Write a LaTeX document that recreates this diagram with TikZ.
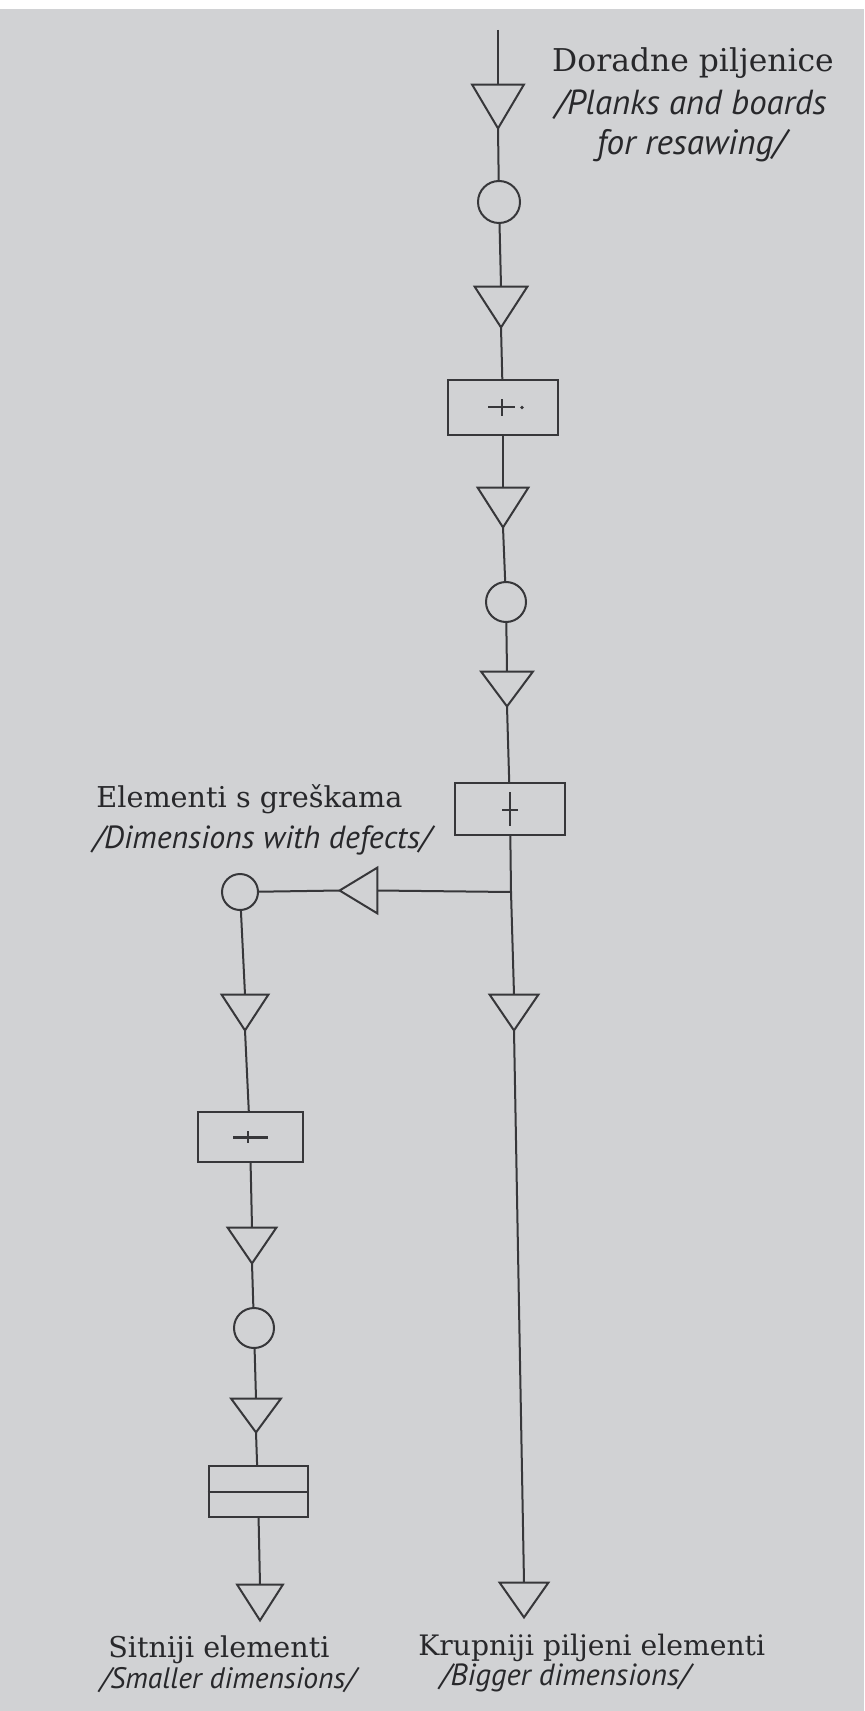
\documentclass[tikz,border=0pt]{standalone}
\usepackage{fontspec}
\setmainfont{DejaVu Serif}
\newfontfamily\itfont{PT Sans}
\definecolor{bgc}{RGB}{209,210,212}
\definecolor{linec}{RGB}{55,55,58}
\definecolor{textc}{RGB}{40,40,43}
\begin{document}
\begin{tikzpicture}[x=0.5pt,y=-0.5pt,
  ln/.style={draw=linec, line width=1pt},
  tri/.style={rectangle, inner sep=0pt, minimum width=25pt, minimum height=19pt},
  circ/.style={circle, draw=linec, line width=1pt, inner sep=0pt, minimum size=20pt},
  box/.style={rectangle, draw=linec, line width=1pt, inner sep=0pt, minimum width=55pt, minimum height=26.5pt},
  lbl/.style={text=textc, inner sep=0pt, anchor=base west},
  upr/.style={font=\fontsize{#1}{#1}\selectfont},
  itl/.style={font=\itfont\itshape\fontsize{#1}{#1}\selectfont},
]
\fill[bgc] (0,0) rectangle (864,1711);
\fill[white] (0,0) rectangle (864,9);
\useasboundingbox (0,0) rectangle (864,1711);

% main column
\coordinate (s0) at (498,30);
\node[tri, minimum width=25.5pt, minimum height=21.5pt] (t1) at (498,106.5) {};
\node[circ, minimum size=21pt] (c1) at (499,202) {};
\node[tri, minimum width=26pt, minimum height=20pt] (t2) at (501,307) {};
\node[box, minimum height=27.5pt] (b1) at (503,407.5) {};
\node[tri, minimum height=19.5pt] (t3) at (503,507.5) {};
\node[circ] (c2) at (506,602) {};
\node[tri, minimum width=25.5pt, minimum height=17pt] (t4) at (507,689) {};
\node[box, minimum height=26pt] (b2) at (510,809) {};
\coordinate (J) at (511,892);
\node[tri, minimum width=24pt, minimum height=17.5pt] (t5) at (514,1012.5) {};
\node[tri, minimum width=24pt, minimum height=17pt] (t6) at (524,1600) {};

% branch
\node[tri, minimum width=18.5pt, minimum height=22.5pt] (tl) at (358.5,890.5) {};
\node[circ, minimum size=18pt] (c3) at (240,892) {};
\node[tri, minimum width=23pt, minimum height=17.5pt] (t7) at (245,1012.5) {};
\node[box, minimum width=52.5pt, minimum height=25pt] (b3) at (250,1137) {};
\node[tri, minimum width=24pt, minimum height=17.5pt] (t8) at (252,1245.5) {};
\node[circ] (c4) at (254,1328) {};
\node[tri, minimum width=24.5pt, minimum height=16.5pt] (t9) at (256,1415.5) {};
\node[box, minimum width=49.5pt, minimum height=25.5pt] (b4) at (258,1491.5) {};
\node[tri, minimum width=22.5pt, minimum height=17.5pt] (t10) at (260,1602.5) {};

% triangles
\foreach \t in {t1,t2,t3,t4,t5,t6,t7,t8,t9,t10}
  \draw[ln, line join=miter] (\t.north west) -- (\t.north east) -- (\t.south) -- cycle;
\draw[ln, line join=miter] (tl.north east) -- (tl.south east) -- (tl.west) -- cycle;

% box symbols
\draw[ln] ([xshift=-7.5pt]b1.center) -- ([xshift=6pt]b1.center);
\draw[ln] ([xshift=-0.5pt,yshift=4pt]b1.center) -- ([xshift=-0.5pt,yshift=-4.5pt]b1.center);
\fill[linec] ([xshift=9.5pt]b1.center) circle[radius=0.9pt];
\draw[ln] ([yshift=8.5pt]b2.center) -- ([yshift=-8.5pt]b2.center);
\draw[ln] ([xshift=-4pt,yshift=-0.5pt]b2.center) -- ([xshift=4pt,yshift=-0.5pt]b2.center);
\draw[ln, line width=1.5pt] ([xshift=-8.5pt]b3.center) -- ([xshift=9pt]b3.center);
\draw[ln] ([xshift=-1pt,yshift=3pt]b3.center) -- ([xshift=-1pt,yshift=-3pt]b3.center);
\draw[ln] (b4.west) -- (b4.east);

% connectors main
\draw[ln] (s0) -- (t1.north);
\draw[ln] (t1.south) -- (c1);
\draw[ln] (c1) -- (t2.north);
\draw[ln] (t2.south) -- (b1);
\draw[ln] (b1) -- (t3.north);
\draw[ln] (t3.south) -- (c2);
\draw[ln] (c2) -- (t4.north);
\draw[ln] (t4.south) -- (b2);
\draw[ln] (b2) -- (J);
\draw[ln] (J) -- (t5.north);
\draw[ln] (t5.south) -- (t6.north);
% connectors branch
\draw[ln] (J) -- (tl.east);
\draw[ln] (tl.west) -- (c3);
\draw[ln] (c3) -- (t7.north);
\draw[ln] (t7.south) -- (b3);
\draw[ln] (b3) -- (t8.north);
\draw[ln] (t8.south) -- (c4);
\draw[ln] (c4) -- (t9.north);
\draw[ln] (t9.south) -- (b4);
\draw[ln] (b4) -- (t10.north);

% labels
\node[lbl, anchor=base, upr=15.7] (d1) at (693,72) {Doradne piljenice};
\node[lbl, anchor=base, itl=17.4] (d2) at (691,115) {/Planks and boards};
\node[lbl, anchor=base, itl=17.6] (d3) at (691,155) {for resawing/};
\node[lbl, upr=14.35] (e1) at (96,807) {Elementi s greškama};
\node[lbl, itl=16] (e2) at (93,848) {/Dimensions with defects/};
\node[lbl, upr=14.3] (s1) at (108,1657) {Sitniji elementi};
\node[lbl, itl=14.8] (s2) at (100,1688) {/Smaller dimensions/};
\node[lbl, upr=14.1] (k1) at (418,1655) {Krupniji piljeni elementi};
\node[lbl, itl=15.3] (k2) at (440,1685) {/Bigger dimensions/};
\end{tikzpicture}
\end{document}
